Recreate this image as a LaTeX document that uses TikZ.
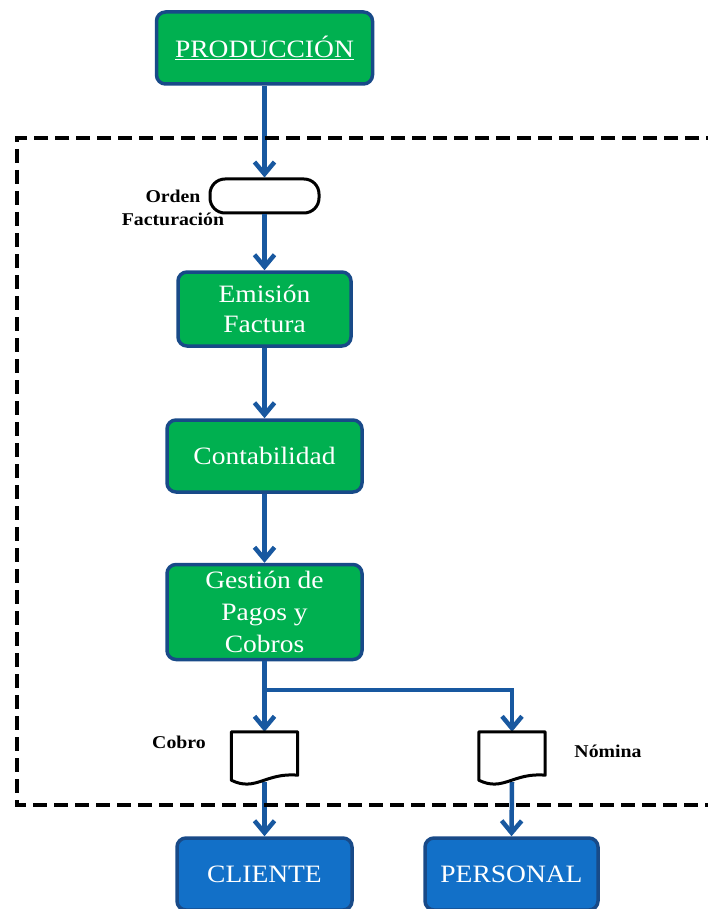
\documentclass[tikz,border=0pt]{standalone}
\usepackage{fontspec}
\setmainfont{Liberation Serif}[FakeStretch=1.1]
\usetikzlibrary{arrows.meta,calc}
\definecolor{boxgreen}{RGB}{0,176,80}
\definecolor{boxblue}{RGB}{18,112,200}
\definecolor{edgeblue}{RGB}{24,74,136}
\definecolor{flowblue}{RGB}{24,88,160}
\tikzset{
  process/.style={rectangle, rounded corners=9pt, draw=edgeblue, line width=3.5pt,
    fill=boxgreen, text=white, font=\fontsize{25}{30}\selectfont, align=center, inner sep=0pt},
  endpoint/.style={process, fill=boxblue},
  terminal/.style={rectangle, rounded corners=15pt, draw=black, line width=3pt,
    fill=white, minimum width=109pt, minimum height=34pt, inner sep=0pt},
  docbox/.style={rectangle, minimum width=66pt, minimum height=54pt, inner sep=0pt},
  docline/.style={draw=black, line width=3pt, line join=round, fill=white},
  tag/.style={font=\bfseries\fontsize{18}{23}\selectfont, align=center},
  flow/.style={draw=flowblue, line width=4.5pt, -{Straight Barb[length=12pt,width=20pt]}},
  boundary/.style={draw=black, line width=3.5pt, dash pattern=on 14pt off 7pt},
}
% document symbol with a wavy lower edge, drawn on the anchors of a docbox node
\newcommand\docsymbol[1]{%
  \draw[docline] (#1.north west) -- (#1.north east)
    -- ($(#1.south east)+(0,-11)$)
    .. controls ($(#1.south east)+(-32,-14)$) and ($(#1.south east)+(-42,6)$)
    .. ($(#1.south west)+(0,-6)$) -- cycle;}
\begin{document}
\begin{tikzpicture}[x=1pt,y=-1pt]
\useasboundingbox (0,0) rectangle (707,909);

% main chain
\node[process, minimum width=216pt, minimum height=72pt] (prod) at (264.5,48) {\underline{PRODUCCIÓN}};
\node[terminal] (orden) at (264.5,196) {};
\node[tag] (ordenlbl) at (173,208) {Orden\\Facturación};
\node[process, minimum width=173pt, minimum height=74pt] (emision) at (264.5,309) {Emisión\\Factura};
\node[process, minimum width=195pt, minimum height=72pt] (conta) at (264.5,456) {Contabilidad};
\node[process, minimum width=195pt, minimum height=95pt, font=\fontsize{25}{32}\selectfont] (gestion) at (264.5,612) {Gestión de\\Pagos y\\Cobros};

% documents
\node[docbox] (cobro) at (264.5,759) {};
\node[docbox] (nomina) at (512,759) {};
\node[tag] (cobrolbl) at (179,742) {Cobro};
\node[tag] (nominalbl) at (608,751) {Nómina};

% external parties
\node[endpoint, minimum width=175pt, minimum height=72pt] (cliente) at (264.5,874) {CLIENTE};
\node[endpoint, minimum width=173pt, minimum height=72pt] (personal) at (511.5,874) {PERSONAL};

% connectors
\draw[flow] (prod.south) -- (orden.north);
\draw[flow] (orden.south) -- (emision.north);
\draw[flow] (emision.south) -- (conta.north);
\draw[flow] (conta.south) -- (gestion.north);
\draw[flow] (gestion.south) -- (cobro.north);
\coordinate (split) at (264.5,690);
\draw[flow] (split) -| (nomina.north);
\draw[flow] ($(cobro.south)+(0,-4)$) -- (cliente.north);
\draw[flow] ($(nomina.south)+(0,-4)$) -- (personal.north);

\docsymbol{cobro}
\docsymbol{nomina}

% system boundary, open to the right
\draw[boundary] (720,138) -| (17,805) -- (720,805);
\end{tikzpicture}
\end{document}
